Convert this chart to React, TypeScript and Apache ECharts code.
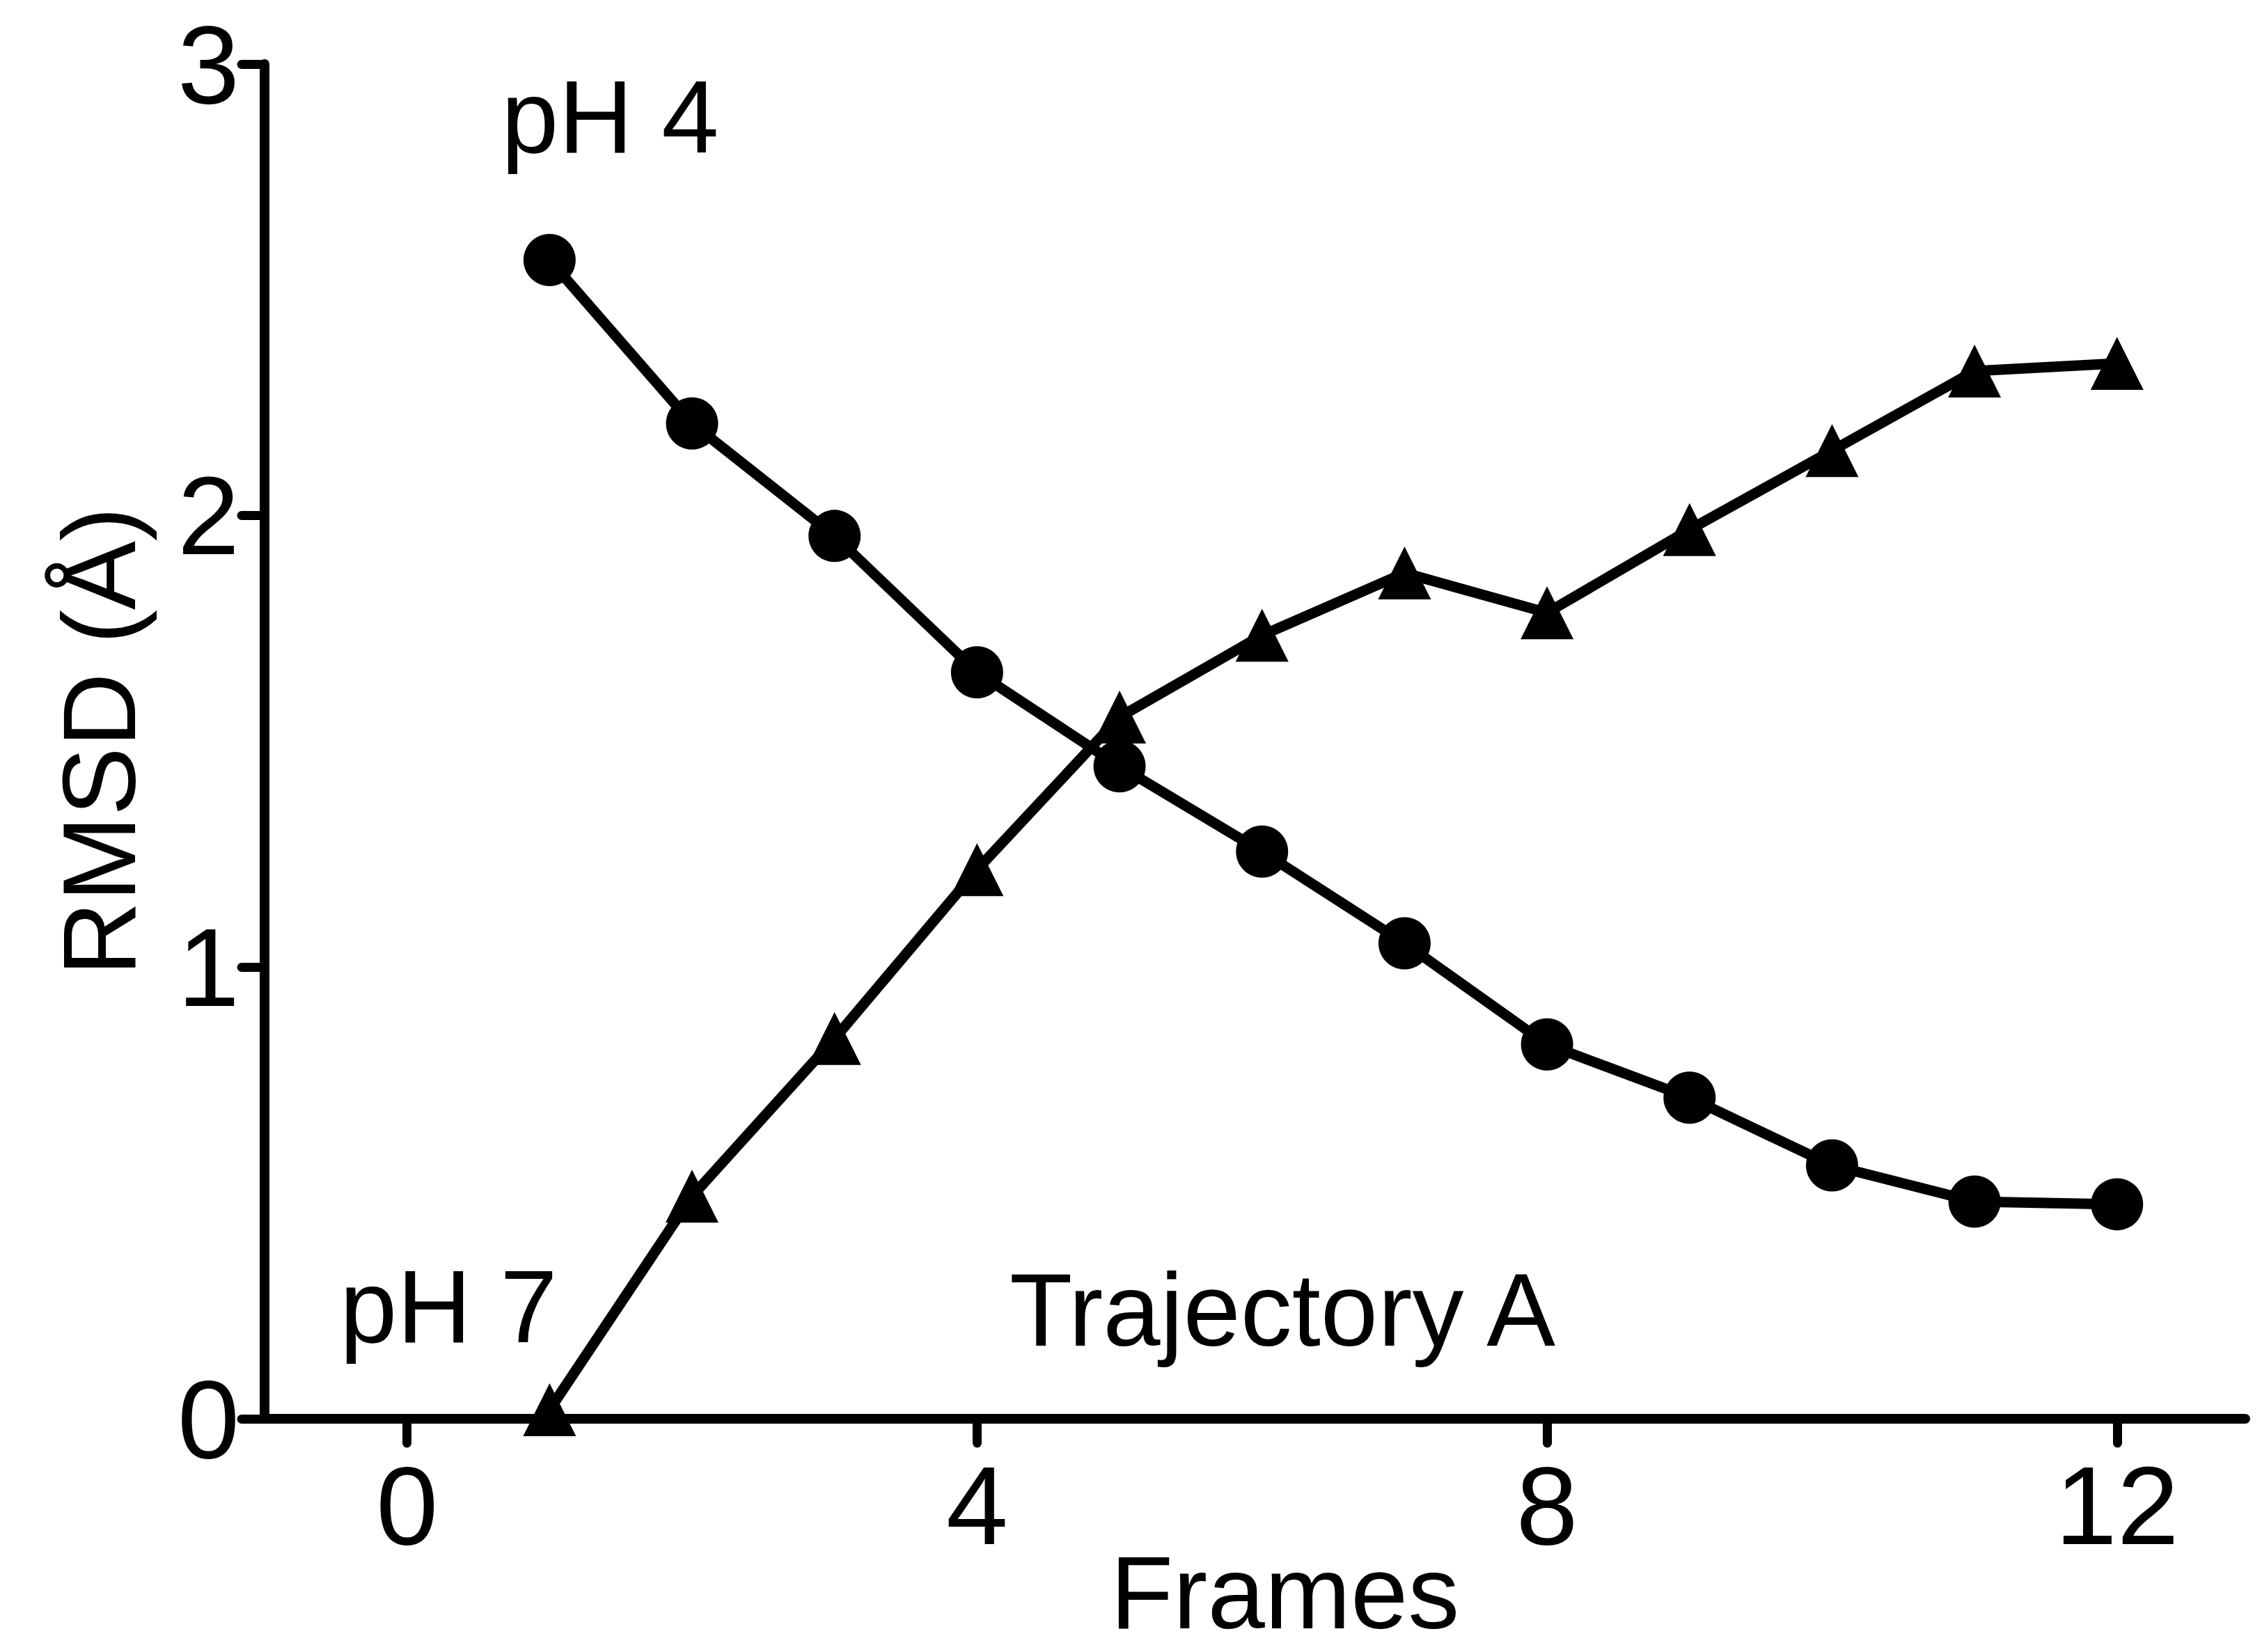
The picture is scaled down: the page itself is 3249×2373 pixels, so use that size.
import React, { useEffect, useRef } from "react";
import * as echarts from "echarts";

const frames = [1, 2, 3, 4, 5, 6, 7, 8, 9, 10, 11, 12];
const ph4Values = [2.566, 2.204, 1.955, 1.653, 1.445, 1.256, 1.053, 0.829, 0.711, 0.561, 0.481, 0.475];
const ph7Values = [0.02, 0.493, 0.842, 1.216, 1.554, 1.735, 1.873, 1.785, 1.969, 2.144, 2.32, 2.337];
const xTicks = [0, 4, 8, 12];
const yTicks = [0, 1, 2, 3];

const FONT = '"Liberation Sans", Arial, Helvetica, sans-serif';

export default function App() {
  const ref = useRef<HTMLDivElement>(null);

  useEffect(() => {
    if (!ref.current) return;
    const chart = echarts.init(ref.current, undefined, { renderer: "svg" });
    const mk = (vals: number[]) => frames.map((f, i) => [f, vals[i]]);
    chart.setOption({
      animation: false,
      backgroundColor: "#ffffff",
      grid: { left: 380, right: 24, top: 92, bottom: 335, outerBoundsMode: "none" },
      xAxis: {
        type: "value",
        min: -1,
        max: 12.9,
        name: "Frames",
        nameLocation: "middle",
        nameGap: 175,
        nameMoveOverlap: false,
        nameTextStyle: { fontSize: 148, color: "#000", fontFamily: FONT, padding: [0, 0, 0, 86] },
        axisLine: { lineStyle: { color: "#000", width: 14 } },
        axisTick: {
          customValues: xTicks,
          length: 35,
          lineStyle: { color: "#000", width: 13, cap: "round" },
        },
        axisLabel: {
          customValues: xTicks,
          fontSize: 160,
          color: "#000",
          fontFamily: FONT,
          margin: 44,
        },
        splitLine: { show: false },
      },
      yAxis: {
        type: "value",
        min: 0,
        max: 3,
        interval: 1,
        name: "RMSD (Å)",
        nameLocation: "middle",
        nameGap: 164,
        nameMoveOverlap: false,
        nameTextStyle: { fontSize: 148, color: "#000", fontFamily: FONT },
        axisLine: { onZero: false, lineStyle: { color: "#000", width: 14 } },
        axisTick: {
          customValues: yTicks,
          length: 33,
          lineStyle: { color: "#000", width: 13, cap: "round" },
        },
        axisLabel: {
          customValues: yTicks,
          fontSize: 160,
          color: "#000",
          fontFamily: FONT,
          margin: 36,
        },
        splitLine: { show: false },
      },
      series: [
        {
          name: "pH 4",
          type: "line",
          data: mk(ph4Values),
          symbol: "circle",
          symbolSize: 75,
          clip: false,
          lineStyle: { color: "#000", width: 15 },
          itemStyle: { color: "#000" },
        },
        {
          name: "pH 7",
          type: "line",
          data: mk(ph7Values),
          symbol: "triangle",
          symbolSize: 76,
          clip: false,
          lineStyle: { color: "#000", width: 15 },
          itemStyle: { color: "#000" },
        },
      ],
      graphic: [
        {
          type: "text",
          x: 720,
          y: 167,
          style: { text: "pH 4", font: `148px ${FONT}`, fill: "#000", textAlign: "left", textVerticalAlign: "middle" },
        },
        {
          type: "text",
          x: 488,
          y: 1876,
          style: { text: "pH 7", font: `148px ${FONT}`, fill: "#000", textAlign: "left", textVerticalAlign: "middle" },
        },
        {
          type: "text",
          x: 1450,
          y: 1881,
          style: { text: "Trajectory A", font: `148px ${FONT}`, fill: "#000", textAlign: "left", textVerticalAlign: "middle" },
        },
      ],
    });
    return () => chart.dispose();
  }, []);

  return (
    <div
      ref={ref}
      style={{ position: "absolute", left: 0, top: 0, width: 3249, height: 2373, background: "#fff" }}
    />
  );
}
